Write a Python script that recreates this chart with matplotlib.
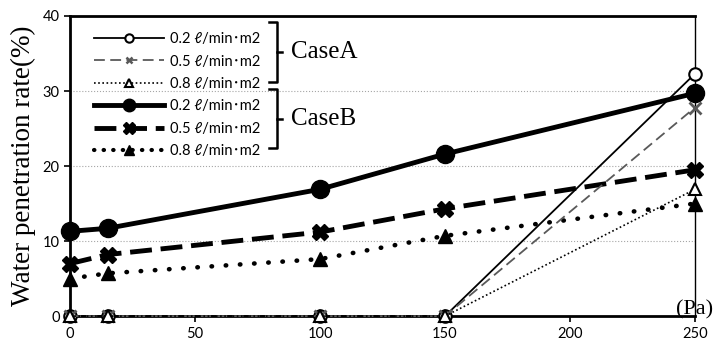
import matplotlib.pyplot as plt
from matplotlib.lines import Line2D

# pressure difference (Pa)
pressure = [0, 15, 100, 150, 250]

# water penetration rate (%)
case_a_02 = [0, 0, 0, 0, 32.3]
case_a_05 = [0, 0, 0, 0, 27.8]
case_a_08 = [0, 0, 0, 0, 16.9]
case_b_02 = [11.3, 11.7, 16.9, 21.6, 29.7]
case_b_05 = [7.0, 8.2, 11.2, 14.3, 19.5]
case_b_08 = [5.0, 5.7, 7.6, 10.7, 15.0]

legend_labels = ['0.2 ℓ/min･m2', '0.5 ℓ/min･m2', '0.8 ℓ/min･m2']

SANS = ['Lato', 'Noto Sans', 'Noto Sans CJK JP', 'DejaVu Sans']
SERIF = 'Liberation Serif'

A_DASH = (0, (6, 3))
A_DOT = (0, (1, 1.5))
B_DASH = (0, (4.5, 1.8))
B_DOT = (0, (0.1, 3))


def make_chart():
    fig = plt.figure(figsize=(7.15, 3.47), dpi=100)
    ax = fig.add_axes([0.098, 0.089, 0.874, 0.865])

    ax.plot(pressure, case_b_02, '-', color='black', lw=3.5, marker='o', ms=13,
            clip_on=False, zorder=3)
    ax.plot(pressure, case_b_05, color='black', lw=3.5, ls=B_DASH, marker='X',
            ms=12, clip_on=False, zorder=3)
    ax.plot(pressure, case_b_08, color='black', lw=3.3, ls=B_DOT,
            dash_capstyle='round', marker='^', ms=10, clip_on=False, zorder=3)

    ax.plot(pressure, case_a_02, '-', color='black', lw=1.3, marker='o', ms=9,
            mfc='white', mec='black', mew=1.5, clip_on=False, zorder=4)
    ax.plot(pressure, case_a_05, color='#595959', lw=1.3, ls=A_DASH, marker='x',
            ms=8, mew=2, clip_on=False, zorder=4)
    ax.plot(pressure, case_a_08, color='black', lw=1.2, ls=A_DOT, marker='^',
            ms=9, mfc='white', mec='black', mew=1.5, clip_on=False, zorder=4)

    ax.set_xlim(0, 250)
    ax.set_ylim(0, 40)
    ax.set_xticks([0, 50, 100, 150, 200, 250])
    ax.set_yticks([0, 10, 20, 30, 40])
    ax.yaxis.grid(True, color='#a6a6a6', ls=':', lw=0.8)
    ax.set_axisbelow(True)

    for s in ['left', 'bottom', 'top']:
        ax.spines[s].set_linewidth(2)
    ax.spines['right'].set_linewidth(1)
    ax.tick_params(labelsize=10.5, length=4, width=1.2)
    for lab in ax.get_xticklabels() + ax.get_yticklabels():
        lab.set_family(SANS)

    ax.set_ylabel('Water penetration rate(%)', family=SERIF, fontsize=19.5, labelpad=5)
    ax.text(242.6, 0.2, '(Pa)', family=SERIF, fontsize=16, ha='left', va='baseline',
            clip_on=False)

    handles = [
        Line2D([], [], color='black', lw=1.3, marker='o', ms=6, mfc='white', mew=1.5),
        Line2D([], [], color='#595959', lw=1.3, ls=A_DASH, marker='x', ms=5, mew=1.8),
        Line2D([], [], color='black', lw=1.2, ls=A_DOT, marker='^', ms=6, mfc='white', mew=1.5),
        Line2D([], [], color='black', lw=3.5, marker='o', ms=9),
        Line2D([], [], color='black', lw=3.5, ls=B_DASH, marker='X', ms=8),
        Line2D([], [], color='black', lw=3, ls=(0, (0.1, 2.2)), dash_capstyle='round', marker='^', ms=7),
    ]
    leg = ax.legend(handles, legend_labels * 2, loc='upper left', frameon=False,
                    bbox_to_anchor=(0.018, 0.99), handlelength=4.8, handletextpad=0.4,
                    labelspacing=0.58, prop={'family': SANS, 'size': 10.5})
    leg.set_zorder(5)

    # brackets grouping the legend entries
    tr = ax.transAxes
    for top, bot, name in [(0.98, 0.78, 'CaseA'), (0.755, 0.56, 'CaseB')]:
        xb = 0.331
        ax.plot([xb - 0.012, xb, xb, xb - 0.012], [top, top, bot, bot], color='black',
                lw=1.8, transform=tr, clip_on=False)
        mid = (top + bot) / 2
        ax.plot([xb, xb + 0.008], [mid, mid], color='black', lw=1.8, transform=tr,
                clip_on=False)
        ax.text(xb + 0.022, mid, name, family=SERIF, fontsize=18, va='center',
                transform=tr)

    fig.savefig('out.png', dpi=100)


def main():
    make_chart()

main()
